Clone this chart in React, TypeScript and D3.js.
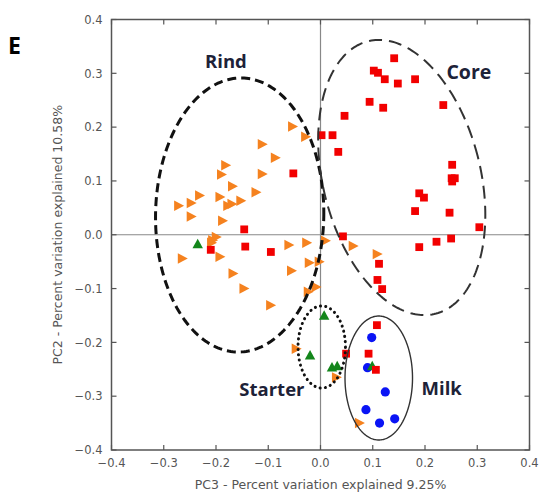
import React from "react";
import * as d3 from "d3";

// ---- Data (PC3 on x, PC2 on y) ----
const rindPC3 = [-0.053, -0.028, -0.111, -0.086, -0.181, -0.189, -0.111, -0.168, -0.123, -0.231, -0.192, -0.271, -0.247, -0.177, -0.169, -0.152, -0.247, -0.187, -0.199, -0.206, -0.208, -0.264, -0.192, -0.167, -0.146, -0.095, -0.060, -0.026, 0.010, 0.063, 0.109, -0.055, -0.021, -0.002, -0.008, -0.023, -0.046, 0.031, 0.075];
const rindPC2 = [0.201, 0.182, 0.168, 0.143, 0.129, 0.112, 0.113, 0.090, 0.079, 0.073, 0.070, 0.054, 0.059, 0.054, 0.057, 0.063, 0.034, 0.026, -0.004, -0.010, -0.015, -0.044, -0.041, -0.072, -0.100, -0.131, -0.019, -0.015, -0.011, -0.021, -0.036, -0.067, -0.052, -0.050, -0.097, -0.106, -0.212, -0.265, -0.350];

const corePC3 = [0.141, 0.102, 0.110, 0.123, 0.148, 0.181, 0.094, 0.120, 0.235, 0.046, 0.002, 0.023, 0.034, 0.252, 0.251, 0.257, 0.252, 0.189, 0.198, 0.181, 0.247, 0.304, 0.043, 0.222, 0.250, 0.189, 0.112, 0.109, 0.118, 0.108, 0.092, 0.049, 0.106, -0.052, -0.146, -0.210, -0.144, -0.095];
const corePC2 = [0.328, 0.305, 0.301, 0.289, 0.281, 0.289, 0.247, 0.236, 0.241, 0.221, 0.185, 0.185, 0.154, 0.130, 0.105, 0.105, 0.099, 0.077, 0.069, 0.044, 0.041, 0.014, -0.003, -0.013, -0.007, -0.023, -0.054, -0.084, -0.101, -0.168, -0.221, -0.221, -0.251, 0.114, 0.010, -0.028, -0.022, -0.032];

const starterPC3 = [-0.235, 0.007, -0.020, 0.022, 0.032, 0.099];
const starterPC2 = [-0.017, -0.150, -0.224, -0.246, -0.244, -0.244];

const milkPC3 = [0.098, 0.090, 0.124, 0.087, 0.113, 0.142];
const milkPC2 = [-0.191, -0.247, -0.292, -0.325, -0.350, -0.342];

const xTicks = [-0.4, -0.3, -0.2, -0.1, 0.0, 0.1, 0.2, 0.3, 0.4];
const yTicks = [-0.4, -0.3, -0.2, -0.1, 0.0, 0.1, 0.2, 0.3, 0.4];

// group ellipses: centre, horizontal & vertical semi-axes (data units), rotation (deg, ccw)
const ellipseNames = ["Rind", "Core", "Starter", "Milk"];
const ellipseCx = [-0.1547, 0.1555, 0.0024, 0.1115];
const ellipseCy = [0.0367, 0.1064, -0.2086, -0.2662];
const ellipseRx = [0.161, 0.1506, 0.0454, 0.0646];
const ellipseRy = [0.2546, 0.2613, 0.0763, 0.1152];
const ellipseRot = [-1, 14.6, 0, 0];

// group label positions (data units, text centre / baseline)
const labelText = ["Rind", "Core", "Starter", "Milk"];
const labelX = [-0.181, 0.284, -0.093, 0.232];
const labelY = [0.310, 0.290, -0.299, -0.298];

const W = 542, H = 493;
const x = d3.scaleLinear().domain([-0.4, 0.4]).range([111.5, 529.5]);
const y = d3.scaleLinear().domain([-0.4, 0.4]).range([450, 19.5]);
const fmt = d3.format(".1f");

const ellipseStyles = [
  { stroke: "#111", strokeWidth: 3, dash: "9 5", cap: "butt" },
  { stroke: "#333", strokeWidth: 2, dash: "13 7", cap: "butt" },
  { stroke: "#111", strokeWidth: 3, dash: "0.1 5.2", cap: "round" },
  { stroke: "#333", strokeWidth: 1.4, dash: "none", cap: "butt" },
];

function ellipsePath(i: number) {
  const phi = (ellipseRot[i] * Math.PI) / 180;
  const pts: [number, number][] = d3.range(0, 240).map((k) => {
    const t = (k / 240) * 2 * Math.PI;
    const bx = ellipseRx[i] * Math.cos(t);
    const ay = ellipseRy[i] * Math.sin(t);
    const dx = bx * Math.cos(phi) - ay * Math.sin(phi);
    const dy = bx * Math.sin(phi) + ay * Math.cos(phi);
    return [ellipseCx[i] + dx, ellipseCy[i] + dy];
  });
  return d3
    .line<[number, number]>()
    .x((d) => x(d[0]))
    .y((d) => y(d[1]))
    .curve(d3.curveLinearClosed)(pts) as string;
}

const triRight = (cx: number, cy: number, s: number) =>
  `M${cx - s * 0.5},${cy - s * 0.55}L${cx + s * 0.55},${cy}L${cx - s * 0.5},${cy + s * 0.55}Z`;
const triUp = (cx: number, cy: number, s: number) =>
  `M${cx - s * 0.55},${cy + s * 0.45}L${cx},${cy - s * 0.55}L${cx + s * 0.55},${cy + s * 0.45}Z`;

export default function App() {
  const x0 = x.range()[0], x1 = x.range()[1];
  const y0 = y.range()[1], y1 = y.range()[0];
  const axisColor = "#555";
  const textColor = "#555";
  const labelColor = "#1d2238";
  return (
    <svg width={W} height={H} style={{ position: "absolute", left: 0, top: 0, background: "#fff" }}>
      {/* zero lines */}
      <line x1={x(0)} x2={x(0)} y1={y0} y2={y1} stroke="#888" strokeWidth={1.2} />
      <line x1={x0} x2={x1} y1={y(0)} y2={y(0)} stroke="#888" strokeWidth={1.2} />

      {/* markers */}
      {milkPC3.map((v, i) => (
        <circle key={"m" + i} cx={x(v)} cy={y(milkPC2[i])} r={4.6} fill="#0a14f5" />
      ))}
      {starterPC3.map((v, i) => (
        <path key={"s" + i} d={triUp(x(v), y(starterPC2[i]), 9.5)} fill="#13861b" />
      ))}
      {rindPC3.map((v, i) => (
        <path key={"r" + i} d={triRight(x(v), y(rindPC2[i]), 9.5)} fill="#f5821f" />
      ))}
      {corePC3.map((v, i) => (
        <rect key={"c" + i} x={x(v) - 3.9} y={y(corePC2[i]) - 3.9} width={7.8} height={7.8} fill="#f20000" />
      ))}

      {/* frame */}
      <rect x={x0} y={y0} width={x1 - x0} height={y1 - y0} fill="none" stroke={axisColor} strokeWidth={1.5} />
      {xTicks.map((t) => (
        <g key={"xt" + t}>
          <line x1={x(t)} x2={x(t)} y1={y1} y2={y1 - 5} stroke={axisColor} strokeWidth={1.2} />
          <line x1={x(t)} x2={x(t)} y1={y0} y2={y0 + 5} stroke={axisColor} strokeWidth={1.2} />
          <text x={x(t)} y={y1 + 17} textAnchor="middle" fontFamily="DejaVu Sans" fontSize={11.5} fill={textColor}>
            {fmt(t)}
          </text>
        </g>
      ))}
      {yTicks.map((t) => (
        <g key={"yt" + t}>
          <line x1={x0} x2={x0 + 5} y1={y(t)} y2={y(t)} stroke={axisColor} strokeWidth={1.2} />
          <line x1={x1} x2={x1 - 5} y1={y(t)} y2={y(t)} stroke={axisColor} strokeWidth={1.2} />
          <text x={x0 - 9} y={y(t) + 4.2} textAnchor="end" fontFamily="DejaVu Sans" fontSize={11.5} fill={textColor}>
            {fmt(t)}
          </text>
        </g>
      ))}

      {/* axis titles */}
      <text x={(x0 + x1) / 2} y={489} textAnchor="middle" fontFamily="DejaVu Sans" fontSize={12.5} fill={textColor}>
        PC3 - Percent variation explained 9.25%
      </text>
      <text
        transform={`translate(62,${(y0 + y1) / 2}) rotate(-90)`}
        textAnchor="middle"
        fontFamily="DejaVu Sans"
        fontSize={12.5}
        fill={textColor}
      >
        PC2 - Percent variation explained 10.58%
      </text>

      {/* ellipses */}
      {ellipseNames.map((n, i) => (
        <path
          key={"e" + n}
          d={ellipsePath(i)}
          fill="none"
          stroke={ellipseStyles[i].stroke}
          strokeWidth={ellipseStyles[i].strokeWidth}
          strokeDasharray={ellipseStyles[i].dash}
          strokeLinecap={ellipseStyles[i].cap as any}
        />
      ))}

      {/* group labels */}
      {labelText.map((t, i) => (
        <text
          key={"l" + t}
          x={x(labelX[i])}
          y={y(labelY[i])}
          textAnchor="middle"
          fontFamily="Open Sans"
          fontWeight={700}
          fontSize={t === "Core" ? 19.5 : 18.5}
          fill={labelColor}
        >
          {t}
        </text>
      ))}

      {/* panel letter */}
      <text x={8} y={53.5} fontFamily="Open Sans" fontWeight={700} fontSize={23} fill="#000">
        E
      </text>
    </svg>
  );
}
